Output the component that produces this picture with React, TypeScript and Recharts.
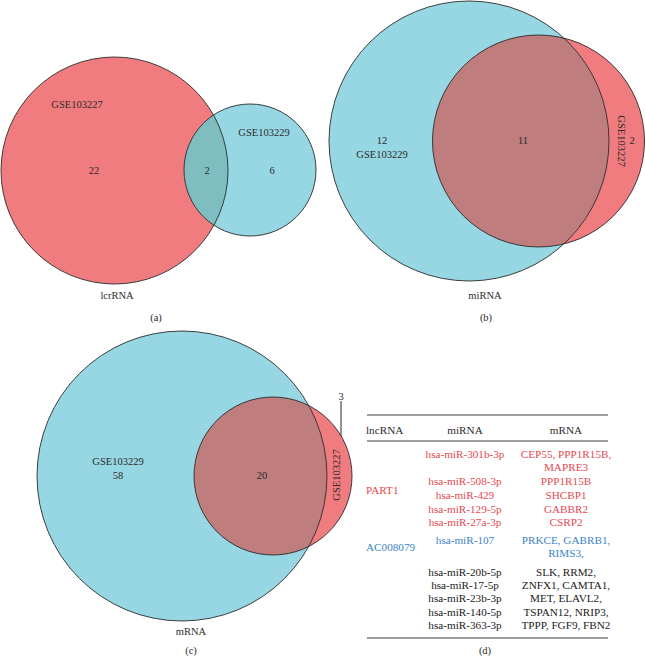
import React from 'react';
import { ScatterChart, Scatter, XAxis, YAxis, ReferenceLine } from 'recharts';

// ---------- values ----------
const panelTitles = ['lcrRNA', 'miRNA', 'mRNA'];
const panelLetters = ['(a)', '(b)', '(c)'];
const setA = 'GSE103227';
const setB = 'GSE103229';
const onlyA = [22, 2, 3];
const sharedAB = [2, 11, 20];
const onlyB = [6, 12, 58];

const tableHeaders = ['lncRNA', 'miRNA', 'mRNA'];
const lncRNAs = ['PART1', 'AC008079'];
const part1MiRNAs = ['hsa-miR-301b-3p', 'hsa-miR-508-3p', 'hsa-miR-429', 'hsa-miR-129-5p', 'hsa-miR-27a-3p'];
const part1MRNAs = ['CEP55, PPP1R15B,', 'MAPRE3', 'PPP1R15B', 'SHCBP1', 'GABBR2', 'CSRP2'];
const ac008079MiRNAs = ['hsa-miR-107'];
const ac008079MRNAs = ['PRKCE, GABRB1,', 'RIMS3,'];
const commonMiRNAs = ['hsa-miR-20b-5p', 'hsa-miR-17-5p', 'hsa-miR-23b-3p', 'hsa-miR-140-5p', 'hsa-miR-363-3p'];
const commonMRNAs = ['SLK, RRM2,', 'ZNFX1, CAMTA1,', 'MET, ELAVL2,', 'TSPAN12, NRIP3,', 'TPPP, FGF9, FBN2'];

// ---------- layout / style ----------
const W = 645;
const H = 657;
const RED = '#F17C7F';
const BLUE = '#97D7E3';
const TEAL = '#7EBEC0';
const ROSE = '#BF7D7D';
const STROKE = '#2a2a2a';
const TXT = '#2a2a2a';
const TRED = '#E5474F';
const TBLUE = '#3B84C6';
const FONT = '"Liberation Serif", "DejaVu Serif", serif';
const FS = 10.5;
const TFS = 11.2;

const circleLayout = [
  { a: { x: 114.5, y: 170.5, r: 113.5 }, b: { x: 250, y: 170, r: 66 }, lens: TEAL, lensOn: 'b' },
  { a: { x: 538.5, y: 141, r: 106 }, b: { x: 469, y: 141, r: 140 }, lens: ROSE, lensOn: 'a' },
  { a: { x: 273, y: 476, r: 79 }, b: { x: 182, y: 476, r: 145 }, lens: ROSE, lensOn: 'a' },
];

const circles: any[] = [];
const lenses: any[] = [];
circleLayout.forEach((c, i) => {
  circles.push({ x: c.a.x, y: c.a.y, r: c.a.r, fill: RED });
  circles.push({ x: c.b.x, y: c.b.y, r: c.b.r, fill: BLUE });
  const on = c.lensOn === 'a' ? c.a : c.b;
  const other = c.lensOn === 'a' ? c.b : c.a;
  lenses.push({ x: on.x, y: on.y, r: on.r, ox: other.x - on.x, oy: other.y - on.y, or: other.r, fill: c.lens, id: 'lensclip' + i });
});

type Lbl = { x: number; y: number; text: string; color?: string; anchor?: string; rot?: number; fs?: number };
const labels: Lbl[] = [
  // (a)
  { x: 77, y: 104, text: setA },
  { x: 94, y: 170, text: String(onlyA[0]) },
  { x: 207, y: 170, text: String(sharedAB[0]) },
  { x: 264, y: 132, text: setB },
  { x: 272, y: 170, text: String(onlyB[0]) },
  { x: 117, y: 295, text: panelTitles[0] },
  { x: 156, y: 317, text: panelLetters[0] },
  // (b)
  { x: 382, y: 140, text: String(onlyB[1]) },
  { x: 382, y: 154, text: setB },
  { x: 523, y: 140, text: String(sharedAB[1]) },
  { x: 621, y: 141, text: setA, rot: 90 },
  { x: 632, y: 140, text: String(onlyA[1]) },
  { x: 485, y: 295, text: panelTitles[1] },
  { x: 486, y: 317, text: panelLetters[1] },
  // (c)
  { x: 118, y: 461, text: setB },
  { x: 118, y: 475, text: String(onlyB[2]) },
  { x: 262, y: 475, text: String(sharedAB[2]) },
  { x: 336, y: 475, text: setA, rot: -90 },
  { x: 341, y: 396, text: String(onlyA[2]) },
  { x: 191, y: 631, text: panelTitles[2] },
  { x: 191, y: 650, text: panelLetters[2] },
  // (d)
  { x: 485, y: 650, text: '(d)' },
];

// table
const colLnc = 366;
const colMi = 465;
const colM = 566;
labels.push({ x: colLnc, y: 430, text: tableHeaders[0], anchor: 'start', fs: TFS });
labels.push({ x: colMi, y: 430, text: tableHeaders[1], fs: TFS });
labels.push({ x: colM, y: 430, text: tableHeaders[2], fs: TFS });
labels.push({ x: colLnc, y: 490, text: lncRNAs[0], anchor: 'start', color: TRED, fs: TFS });
labels.push({ x: colLnc, y: 547, text: lncRNAs[1], anchor: 'start', color: TBLUE, fs: TFS });
const part1MiY = [454, 481, 495, 509, 522];
const part1MY = [454, 467, 481, 495, 509, 522];
part1MiRNAs.forEach((t, i) => labels.push({ x: colMi, y: part1MiY[i], text: t, color: TRED, fs: TFS }));
part1MRNAs.forEach((t, i) => labels.push({ x: colM, y: part1MY[i], text: t, color: TRED, fs: TFS }));
const acMiY = [540];
const acMY = [540, 553];
ac008079MiRNAs.forEach((t, i) => labels.push({ x: colMi, y: acMiY[i], text: t, color: TBLUE, fs: TFS }));
ac008079MRNAs.forEach((t, i) => labels.push({ x: colM, y: acMY[i], text: t, color: TBLUE, fs: TFS }));
const comY = [572, 585, 598, 612, 625];
commonMiRNAs.forEach((t, i) => labels.push({ x: colMi, y: comY[i], text: t, color: '#1a1a1a', fs: TFS }));
commonMRNAs.forEach((t, i) => labels.push({ x: colM, y: comY[i], text: t, color: '#1a1a1a', fs: TFS }));

const tableLines = [
  { y: 415, x1: 367, x2: 608 },
  { y: 441, x1: 367, x2: 608 },
  { y: 638, x1: 367, x2: 608 },
];

const FillShape = (p: any) => <circle cx={p.cx} cy={p.cy} r={p.payload.r} fill={p.payload.fill} />;
const OutlineShape = (p: any) => (
  <circle cx={p.cx} cy={p.cy} r={p.payload.r} fill="none" stroke={STROKE} strokeWidth={0.9} />
);
const LensShape = (p: any) => {
  const d = p.payload;
  return (
    <g>
      <defs>
        <clipPath id={d.id}>
          <circle cx={p.cx + d.ox} cy={p.cy + d.oy} r={d.or} />
        </clipPath>
      </defs>
      <circle cx={p.cx} cy={p.cy} r={d.r} fill={d.fill} clipPath={`url(#${d.id})`} />
    </g>
  );
};
const TextShape = (p: any) => {
  const d = p.payload;
  return (
    <text
      x={p.cx}
      y={p.cy}
      textAnchor={d.anchor || 'middle'}
      dominantBaseline="central"
      fontFamily={FONT}
      fontSize={d.fs || FS}
      fill={d.color || TXT}
      transform={d.rot ? `rotate(${d.rot} ${p.cx} ${p.cy})` : undefined}
    >
      {d.text}
    </text>
  );
};

export default function App() {
  return (
    <div style={{ position: 'absolute', left: 0, top: 0, width: W, height: H, background: '#fff' }}>
      <ScatterChart width={W} height={H} margin={{ top: 0, right: 0, bottom: 0, left: 0 }}>
        <XAxis type="number" dataKey="x" domain={[0, W]} hide allowDataOverflow />
        <YAxis type="number" dataKey="y" domain={[0, H]} reversed hide allowDataOverflow />
        <Scatter data={circles} shape={FillShape} isAnimationActive={false} />
        <Scatter data={lenses} shape={LensShape} isAnimationActive={false} />
        <Scatter data={circles} shape={OutlineShape} isAnimationActive={false} />
        <ReferenceLine
          segment={[{ x: 341, y: 401 }, { x: 341, y: 480 }]}
          stroke={STROKE}
          strokeWidth={1}
        />
        {tableLines.map((l, i) => (
          <ReferenceLine
            key={i}
            segment={[{ x: l.x1, y: l.y }, { x: l.x2, y: l.y }]}
            stroke="#3a3a3a"
            strokeWidth={1.1}
          />
        ))}
        <Scatter data={labels} shape={TextShape} isAnimationActive={false} />
      </ScatterChart>
    </div>
  );
}
